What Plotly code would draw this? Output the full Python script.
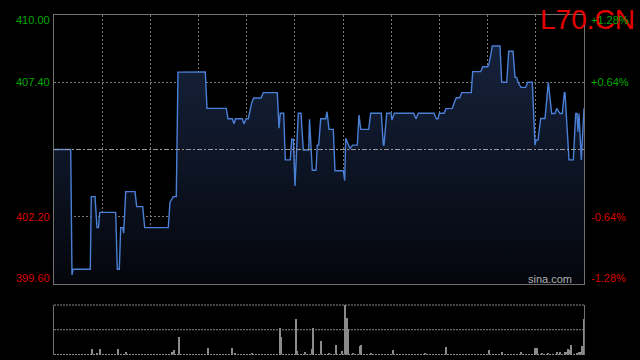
import plotly.graph_objects as go

# ---- data ----
base_price = 404.80
price_times = [0, 16.7, 18, 19, 36.3, 37.3, 41, 43, 44.5, 45.7, 61.7, 63.3, 65.3, 66.7, 68.7, 69.7, 71.7, 81, 82.7, 88.7,
               90.7, 114.3, 116, 118, 119.3, 122.3, 124, 151.3, 153, 172.3, 174, 178.3, 180, 181.5, 188.3, 190, 192, 194.3,
               197.7, 199.7, 207, 209.3, 223.3, 225, 226.3, 229.7, 231.3, 236.3, 237.7, 239.3, 241, 244.3, 247, 249.3,
               254.7, 255.5, 258.3, 262, 263.3, 264.7, 266.7, 271.7, 273, 275, 279.3, 281, 289.3, 290.7, 291.7, 296,
               298.7, 303.3, 305, 306.7, 314.7, 316.7, 327.3, 329.3, 330, 332.7, 337, 338, 340.3, 359.7, 362, 364.3,
               380, 382.3, 384, 385.3, 390, 392, 398.3, 400, 402.3, 405.7, 407.7, 417.3, 418.7, 426.7, 428.7, 433.7,
               435, 438.3, 446, 447.7, 452.7, 454.7, 459, 461, 462.7, 464, 467, 471.7, 473.7, 478.3, 480, 481, 482,
               484, 486.7, 491, 494.3, 497.7, 501, 502.7, 506, 508.3, 510.3, 511, 515, 519.3, 521.7, 523, 524, 525,
               527.3, 529.3, 530]
prices = [404.80, 404.80, 399.95, 400.17, 400.17, 402.98, 402.98, 401.78, 401.78, 402.37, 402.37, 400.17, 400.17,
          401.78, 401.78, 401.57, 403.17, 403.17, 402.59, 402.59, 401.78, 401.78, 402.76, 402.89, 402.98, 402.98,
          407.79, 407.80, 406.39, 406.39, 405.99, 405.99, 405.79, 405.99, 405.99, 405.79, 405.99, 405.99, 406.61,
          406.79, 406.79, 407.00, 407.00, 405.62, 406.20, 406.20, 404.40, 404.40, 405.20, 405.20, 403.39, 406.20,
          406.20, 404.78, 404.78, 405.97, 404.00, 404.00, 404.97, 404.97, 405.99, 405.99, 406.26, 405.58, 405.58,
          403.98, 403.98, 403.60, 405.23, 404.84, 404.97, 404.97, 406.13, 405.58, 405.58, 406.20, 406.20, 404.97,
          404.97, 406.20, 406.20, 405.94, 406.20, 406.20, 405.99, 406.20, 406.20, 405.99, 405.99, 406.20, 406.20,
          406.38, 406.39, 406.59, 406.80, 406.80, 407.00, 407.00, 407.81, 407.81, 408.00, 408.00, 408.10, 408.80,
          408.80, 407.40, 407.40, 408.60, 408.60, 407.59, 407.59, 407.40, 407.20, 407.20, 407.40, 407.40, 405.36,
          404.97, 405.17, 405.17, 406.00, 406.00, 407.40, 406.19, 406.19, 406.39, 406.19, 406.19, 407.00, 407.00,
          404.40, 404.40, 406.19, 406.19, 405.49, 406.19, 404.40, 406.39, 406.39]

vol_times = [38.3, 43.3, 46.3, 64.3, 72.3, 117.7, 120.3, 125.3, 154.3, 178.3, 181, 197.7, 226, 227, 242.3, 243.3,
             250.7, 258.3, 259.3, 267.3, 275.3, 282.3, 288.3, 291.3, 293.3, 294.3, 299.3, 306.3, 307.3, 317.3,
             339.3, 371.3, 392.3, 434.7, 448.3, 467.3, 480.7, 483.3, 488.3, 494, 503.3, 506.3, 511.3, 512.3, 514.3,
             515.3, 517.3, 523.3, 525.3, 527.3, 528.3, 530]
volumes = [5000, 1500, 5000, 5000, 2000, 2000, 4000, 17000, 6000, 6000, 1500, 1500, 26000, 17000, 35000, 3000,
           2000, 5000, 26000, 13000, 1500, 9000, 3000, 49000, 36000, 25000, 1500, 8000, 9000, 1500,
           4000, 1500, 7000, 4000, 2000, 2000, 6000, 6000, 1500, 1500, 2000, 2000, 2000, 2000, 5000,
           4000, 9000, 1500, 2000, 2000, 8000, 35000]

price_labels = ["410.00", "407.40", "402.20", "399.60"]
price_levels = [410.00, 407.40, 402.20, 399.60]
pct_labels = ["+1.28%", "+0.64%", "-0.64%", "-1.28%"]
label_colors = ["#00a800", "#00a800", "#d80000", "#d80000"]
label_shift = [-5, 0, 0, 6]
ticker = "L70.CN"
session_len = 530
n_div = 11

FONT = "Arial, Liberation Sans, sans-serif"
GRID = "#7a7a7a"

fig = go.Figure()

fig.add_trace(go.Scatter(
    x=price_times, y=prices, mode="lines",
    line=dict(color="#4a7fd6", width=1.4),
    fill="tozeroy",
    fillgradient=dict(type="vertical", start=price_levels[-1], stop=price_levels[0],
                      colorscale=[[0, "rgb(4,6,12)"], [1, "rgb(24,38,66)"]]),
    xaxis="x", yaxis="y", hoverinfo="skip", showlegend=False))

fig.add_trace(go.Bar(
    x=vol_times, y=volumes, width=1.0, marker=dict(color="#8a8a8a", line=dict(width=0)),
    xaxis="x2", yaxis="y2", hoverinfo="skip", showlegend=False))

xt = [session_len * k / n_div for k in range(1, n_div)]
vmax = max(volumes) * 1.006

fig.update_layout(
    width=640, height=360, margin=dict(l=0, r=0, t=0, b=0),
    paper_bgcolor="black", plot_bgcolor="black",
    hovermode=False, bargap=0,
    xaxis=dict(domain=[54 / 640, 584 / 640], anchor="y", range=[0, session_len],
               tickvals=xt, showticklabels=False, ticks="",
               showgrid=True, gridcolor=GRID, griddash="2px,2px", gridwidth=1,
               showline=True, linecolor="#707070", linewidth=1, mirror=True, zeroline=False),
    yaxis=dict(domain=[(360 - 284) / 360, (360 - 15) / 360], anchor="x",
               range=[price_levels[-1], price_levels[0]],
               tickvals=[price_levels[1], price_levels[2]], showticklabels=False, ticks="",
               showgrid=True, gridcolor=GRID, griddash="2px,2px", gridwidth=1,
               showline=True, linecolor="#707070", linewidth=1, mirror=True, zeroline=False),
    xaxis2=dict(domain=[54 / 640, 584 / 640], anchor="y2", range=[0, session_len],
                showticklabels=False, ticks="", showgrid=False, zeroline=False, showline=False),
    yaxis2=dict(domain=[(360 - 354.5) / 360, (360 - 305) / 360], anchor="x2", range=[0, vmax],
                showticklabels=False, ticks="", showgrid=False, zeroline=False,
                showline=True, linecolor="#707070", linewidth=1, mirror=True),
)

# base-price line
fig.add_shape(type="line", xref="x domain", yref="y", x0=0, x1=1, y0=base_price, y1=base_price,
              line=dict(color="#9a9a9a", width=1, dash="5px,2px,2px,2px"))
# volume panel dotted lines
for fy in [0, 0.5, 1]:
    fig.add_shape(type="line", xref="x2 domain", yref="y2 domain", x0=0, x1=1, y0=fy, y1=fy,
                  line=dict(color="#8a8a8a", width=1, dash="2px,1px"))

# title
fig.add_annotation(text=ticker, xref="paper", yref="paper", x=637 / 640, y=1 - 2 / 360,
                   xanchor="right", yanchor="top", showarrow=False,
                   font=dict(family=FONT, size=28, color="#e60000"))

for lab, lvl, pl, col, sh in zip(price_labels, price_levels, pct_labels, label_colors, label_shift):
    fig.add_annotation(text=lab, xref="paper", yref="y", x=52 / 640, y=lvl, yshift=sh,
                       xanchor="right", yanchor="middle", showarrow=False,
                       font=dict(family=FONT, size=11, color=col))
    fig.add_annotation(text=pl, xref="paper", yref="y", x=589 / 640, y=lvl, yshift=sh,
                       xanchor="left", yanchor="middle", showarrow=False,
                       font=dict(family=FONT, size=11, color=col))

fig.add_annotation(text="sina.com", xref="paper", yref="paper", x=574 / 640, y=(360 - 279) / 360,
                   xanchor="right", yanchor="middle", showarrow=False,
                   font=dict(family=FONT, size=11, color="#b0b0b0"))

fig.write_html("out.html")
